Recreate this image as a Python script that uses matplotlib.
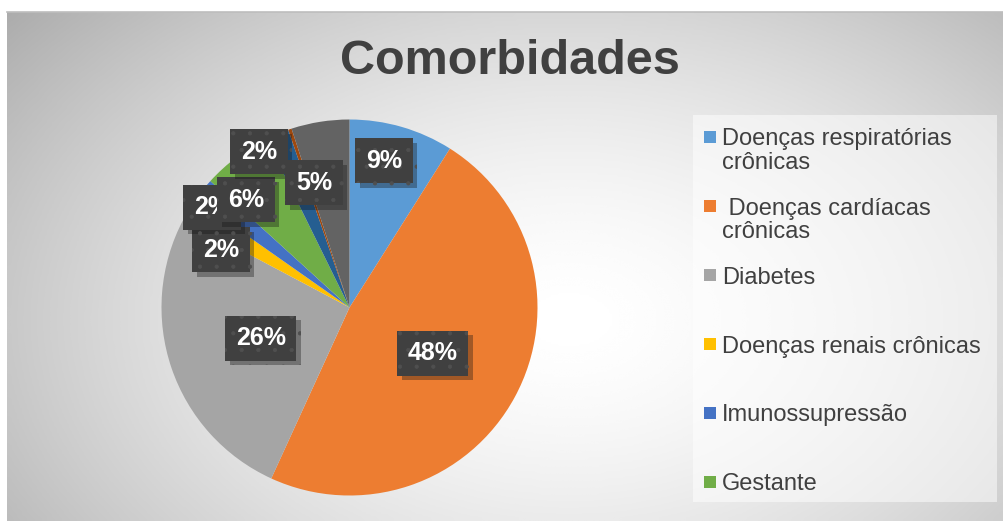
import numpy as np
import matplotlib
matplotlib.use("Agg")
import matplotlib.pyplot as plt
import matplotlib.patheffects as pe
from matplotlib.patches import Rectangle

plt.rcParams['font.family'] = ['Liberation Sans', 'DejaVu Sans']
plt.rcParams['hatch.linewidth'] = 0.6

# data (clockwise from 12 o'clock)
categories = [
    "Doenças respiratórias\ncrônicas",
    " Doenças cardíacas\ncrônicas",
    "Diabetes",
    "Doenças renais crônicas",
    "Imunossupressão",
    "Gestante",
    "", "", "",          # legend is cut off in the original, names not visible
]
values = [9, 48, 26, 2, 2, 6, 2, 0.3, 5]
pct_labels = ["9%", "48%", "26%", "2%", "2%", "6%", "2%", "", "5%"]
colors = ["#5B9BD5", "#ED7D31", "#A5A5A5", "#FFC000", "#4472C4",
          "#70AD47", "#255E91", "#9E480E", "#636363"]

# where the data labels sit (pixel centres in the 1004x521 image)
label_px = [(384, 161), (433, 353), (261, 338), (221, 250), (212, 207),
            (246, 200), (259, 152), None, (314, 183)]

W, H = 1004, 521
fig = plt.figure(figsize=(W / 100, H / 100), dpi=100)
fig.patch.set_facecolor("white")

# radial grey background of the chart area
bg = fig.add_axes([7 / W, 0, 1 - 7 / W, (H - 12) / H])
xx, yy = np.meshgrid(np.linspace(7, W, 400), np.linspace(12, H, 220))
d = np.sqrt(((xx - 570) / 650) ** 2 + ((yy - 320) / 430) ** 2)
shade = 1 - 0.27 * np.clip(d, 0, 1.2) ** 1.6
bg.imshow(shade, cmap="gray", vmin=0, vmax=1, aspect="auto",
          extent=[0, 1, 0, 1], interpolation="bicubic")
bg.set_xlim(0, 1)
bg.set_ylim(0, 1)
bg.axis("off")
fig.add_artist(plt.Line2D([7 / W, 1], [(H - 12) / H] * 2, color="#BDBDBD", lw=1.2))

# pie
cx, cy, r = 349.5, 307.5, 188
ax = fig.add_axes([(cx - r) / W, (H - cy - r) / H, 2 * r / W, 2 * r / H])
ax.pie(values, colors=colors, startangle=90, counterclock=False, radius=1,
       wedgeprops=dict(linewidth=0))
ax.set_xlim(-1, 1)
ax.set_ylim(-1, 1)
ax.set_aspect("auto")
ax.axis("off")

for i, (txt, pos) in enumerate(zip(pct_labels, label_px)):
    if pos is None or not txt:
        continue
    x = (pos[0] - cx) / r
    y = (cy - pos[1]) / r
    t = ax.text(x, y, txt, ha="center", va="center", color="white",
                fontsize=18, fontweight="bold", zorder=10 + i,
                bbox=dict(boxstyle="square,pad=0.42", fc="#404040",
                          ec="#4F4F4F", lw=0, hatch="."))
    t.get_bbox_patch().set_path_effects(
        [pe.SimplePatchShadow(offset=(3, -3), alpha=0.35), pe.Normal()])

# title
fig.text(510 / W, 1 - 61 / H, "Comorbidades", ha="center", va="center",
         fontsize=35, fontweight="bold", color="#404040")

# legend box (drawn by hand, truncated like the original)
fig.add_artist(Rectangle((693 / W, 1 - 502 / H), (997 - 693) / W, (502 - 115) / H,
                         transform=fig.transFigure, fc="white", alpha=0.5, ec="none"))
for i, (name, col) in enumerate(zip(categories, colors)):
    if not name:
        continue
    row = 137 + 69 * i
    fig.add_artist(Rectangle((704 / W, 1 - (row + 6) / H), 12 / W, 12 / H,
                             transform=fig.transFigure, fc=col, ec="none"))
    fig.text(722 / W, 1 - (row - 8.5) / H, name, ha="left", va="top",
             fontsize=17, color="#404040", linespacing=1.1)

fig.savefig("out.png", dpi=100)
